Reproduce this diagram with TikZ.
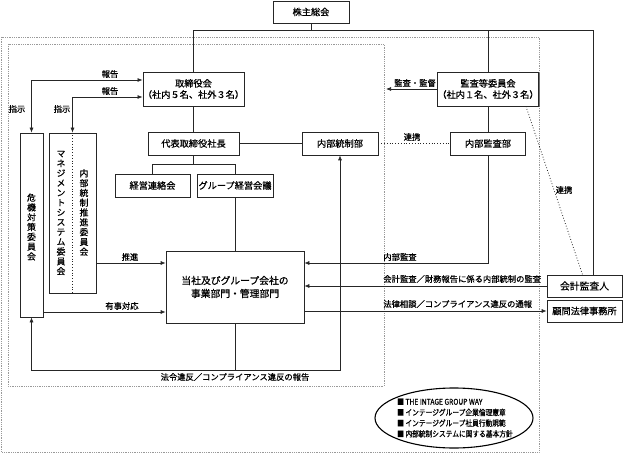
\documentclass[tikz,border=0pt]{standalone}
\usepackage{fontspec}
\setmainfont{Noto Sans CJK JP}[FakeBold=0.7]
\newfontfamily\narrowjp{Noto Sans CJK JP}[FakeStretch=0.84,FakeBold=0.7]
\usetikzlibrary{arrows.meta,shapes.geometric,shadows}
\begin{document}
\begin{tikzpicture}[x=1pt,y=-1pt,
  line width=0.7pt,
  box/.style={draw=black!85, fill=white, line width=0.7pt, inner sep=0pt, align=center,
    font=\fontsize{9.2}{11.2}\selectfont,
    drop shadow={shadow xshift=0.9pt, shadow yshift=-0.9pt, fill=black!55, opacity=1}},
  vtext/.style={align=center, inner sep=0pt, font=\fontsize{8.8}{9.8}\selectfont},
  lbl/.style={font=\fontsize{8.3}{9}\selectfont, inner sep=0pt},
  conn/.style={draw=black!85, line width=0.7pt},
  arr/.style={conn, -{Latex[length=5pt,width=4pt]}},
  darr/.style={conn, {Latex[length=5pt,width=4pt]}-{Latex[length=5pt,width=4pt]}},
  dots/.style={draw=black!85, line width=0.8pt, dotted},
  frame/.style={draw=black!40, line width=0.8pt, densely dotted}
]
\useasboundingbox (0,0) rectangle (623,462);
% frames
\draw[frame] (1.5,37) rectangle (539,452);
\draw[frame] (8,44) rectangle (384,386);

% nodes
\node[box, minimum width=76pt, minimum height=22pt] (sh) at (311,12) {株主総会};
\node[box, minimum width=91pt, minimum height=34pt] (bod) at (193.5,89) {取締役会\\（社内５名、社外３名）};
\node[box, minimum width=90pt, minimum height=34pt] (ac) at (488,89) {監査等委員会\\（社内１名、社外３名）};
\node[box, minimum width=91pt, minimum height=23pt] (ceo) at (193.5,143.5) {代表取締役社長};
\node[box, minimum width=76pt, minimum height=23pt] (ic) at (340,143.5) {内部統制部};
\node[box, minimum width=75pt, minimum height=23pt] (ia) at (488,143.5) {内部監査部};
\node[box, minimum width=75pt, minimum height=23pt] (mm) at (152.5,185.5) {経営連絡会};
\node[box, minimum width=76pt, minimum height=23pt] (gm) at (235,185.5) {グループ経営会議};
\node[box, minimum width=138pt, minimum height=72pt, font=\fontsize{9.8}{13}\selectfont] (biz) at (235,287) {当社及びグループ会社の\\事業部門・管理部門};
\node[box, minimum width=23pt, minimum height=184pt] (crisis) at (31.5,225) {};
\node[vtext] (crisistxt) at (31.5,227) {危\\機\\対\\策\\委\\員\\会};
\node[box, minimum width=47pt, minimum height=160pt] (ms) at (72.5,213) {};
\node[vtext] (mstxt) at (61,213) {マ\\ネ\\ジ\\メ\\ン\\ト\\シ\\ス\\テ\\ム\\委\\員\\会};
\node[vtext] (ictxt) at (84,212.5) {内\\部\\統\\制\\推\\進\\委\\員\\会};
\node[box, minimum width=75pt, minimum height=22pt, font=\fontsize{9.8}{11}\selectfont] (aud) at (584.5,286) {会計監査人};
\node[box, minimum width=75pt, minimum height=22pt] (law) at (584.5,311) {顧問法律事務所};

% ellipse
\node[draw=black, line width=1.1pt, ellipse, minimum width=158pt, minimum height=60pt, inner sep=0pt] (vals) at (454,418) {};
\node[align=left, inner sep=0pt, font=\narrowjp\fontsize{8}{10.7}\selectfont] (valtxt) at (455,418)
  {■ THE INTAGE GROUP WAY\\■ インテージグループ企業倫理憲章\\■ インテージグループ社員行動規範\\■ 内部統制システムに関する基本方針};

% top connectors
\coordinate (rt) at (593,30);
\draw[conn] (sh.south) -- (sh.south |- rt);
\draw[conn] (bod.north) -- (bod.north |- rt) -- (rt) -- (rt |- aud.north);
\draw[conn] (ac.north) -- (ac.north |- rt);
\draw[conn] (bod.south) -- (ceo.north);
\draw[conn] (ceo.east) -- (ic.west);
\draw[dots] (ic.east) -- (ia.west);
\draw[conn] (ac.south) -- (ia.north);
\coordinate (acend) at (386,89);
\draw[arr] (ac.west) -- (acend);
\draw[dots] ([xshift=-13pt]ac.south east) -- ([xshift=-2pt]aud.north);

% president to meetings
\coordinate (split) at (193.5,164);
\draw[conn] (ceo.south) -- (split);
\draw[conn] (mm.north) -- (mm.north |- split) -- (gm.north |- split) -- (gm.north);
\draw[conn] (gm.south) -- (biz.north);

% left committees
\coordinate (r1) at (148,80);
\coordinate (r2) at (148,97);
\draw[darr] (crisis.north) |- (bod.west |- r1);
\draw[darr] (ms.north) |- (bod.west |- r2);
\draw[dots, line width=0.6pt] (ms.north) -- (ms.south);
\coordinate (y263) at (0,263);
\coordinate (y312) at (0,312);
\draw[arr] (ms.east |- y263) -- (biz.west |- y263);
\draw[arr] (crisis.east |- y312) -- (biz.west |- y312);

% bottom report loop
\coordinate (y370) at (0,370);
\draw[conn] (biz.south) -- (biz.south |- y370);
\draw[darr] (crisis.south) |- (ic.south |- y370) -- (ic.south);

% right side
\draw[arr] (ia.south) |- (biz.east |- y263);
\draw[arr] (aud.west) -- (biz.east |- aud.west);
\draw[arr] (biz.east |- law.west) -- (law.west);

% labels
\node[lbl] (l1) at (110,74) {報告};
\node[lbl] (l2) at (110,91) {報告};
\node[lbl] (l3) at (17,109) {指示};
\node[lbl] (l4) at (62,109) {指示};
\node[lbl] (l5) at (415,83) {監査・監督};
\node[lbl] (l6) at (412,137) {連携};
\node[lbl] (l7) at (564,190) {連携};
\node[lbl] (l8) at (130,257) {推進};
\node[lbl] (l9) at (122,306) {有事対応};
\node[lbl, anchor=west] (l10) at (383,257) {内部監査};
\node[lbl, anchor=west] (l11) at (383,279) {会計監査／財務報告に係る内部統制の監査};
\node[lbl, anchor=west] (l12) at (383,304) {法律相談／コンプライアンス違反の通報};
\node[lbl] (l13) at (235,377) {法令違反／コンプライアンス違反の報告};
\end{tikzpicture}
\end{document}
